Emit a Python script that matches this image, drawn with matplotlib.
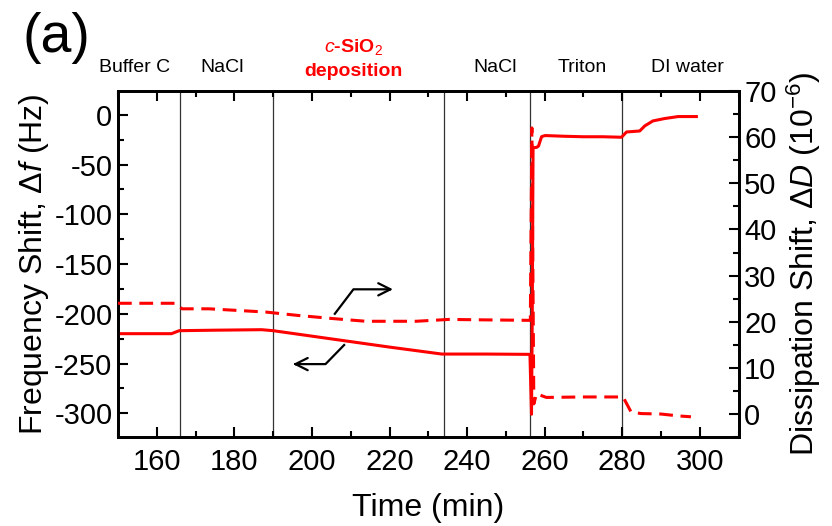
import matplotlib
matplotlib.use("Agg")
import matplotlib.pyplot as plt
from matplotlib.ticker import MultipleLocator
import matplotlib.transforms as mtransforms

plt.rcParams['font.family'] = ['Liberation Sans', 'DejaVu Sans']
plt.rcParams['mathtext.fontset'] = 'custom'
plt.rcParams['mathtext.rm'] = 'Liberation Sans'
plt.rcParams['mathtext.it'] = 'Liberation Sans:italic'
plt.rcParams['axes.unicode_minus'] = False

# frequency shift (left axis), Hz
t_freq = [150, 163.8, 165.8, 175, 187, 190, 200, 210, 220, 233.5, 245, 256.2,
          256.6, 256.8, 257.0, 257.9, 258.4, 259.2, 260.1, 265, 270, 275, 279.8,
          281.1, 284.5, 285.8, 287.9, 290.9, 294.4, 299.1]
freq = [-220, -220, -217, -216.5, -216, -217, -222.5, -228, -233.5, -240.5, -240.5, -240.8,
        -301, -200, -33, -32.7, -31.4, -21.9, -20.8, -21.5, -22, -22, -22.5,
        -17.2, -16.2, -11.1, -6.1, -3.7, -1.7, -1.7]

# dissipation shift (right axis), 1e-6
t_diss = [150, 165.0, 166.5, 173.5, 188.1, 196, 205.2, 213.9, 226.8, 235.3, 245, 256.3,
          256.7, 257.2, 257.9, 260.4, 270, 280.2, 282.3, 284.9, 290, 294.4, 297.7]
diss = [24.0, 24.0, 22.8, 22.8, 22.1, 21.4, 20.7, 20.1, 20.1, 20.5, 20.4, 20.3,
        62, 2.2, 4.4, 3.6, 3.7, 3.7, 0.4, 0.1, 0.0, -0.4, -0.6]

# solution changes
t_switch = [166, 190, 234, 256.2, 280]
stage_x = [154.3, 176.9, 247.3, 269.7, 296.9]
stage_names = ['Buffer C', 'NaCl', 'NaCl', 'Triton', 'DI water']

fig = plt.figure(figsize=(8.32, 5.26), dpi=100)
ax = fig.add_axes([0.1418, 0.169, 0.746, 0.658])
ax2 = ax.twinx()

for t in t_switch:
    ax.axvline(t, color='#333333', lw=0.9, zorder=1)

ax.plot(t_freq, freq, color='red', lw=2.2, zorder=3)
ax2.plot(t_diss, diss, color='red', lw=2.2, ls=(0, (4.5, 2.5)), zorder=3)

ax.set_xlim(150, 310)
ax.set_ylim(-324, 24)
ax2.set_ylim(-5, 70)

ax.xaxis.set_major_locator(MultipleLocator(20))
ax.xaxis.set_minor_locator(MultipleLocator(10))
ax.yaxis.set_major_locator(MultipleLocator(50))
ax.yaxis.set_minor_locator(MultipleLocator(25))
ax2.yaxis.set_major_locator(MultipleLocator(10))
ax2.yaxis.set_minor_locator(MultipleLocator(5))

ax.tick_params(axis='x', which='both', direction='in', top=True, labelsize=21, pad=8)
ax.tick_params(axis='y', which='both', direction='in', labelsize=21, pad=4)
ax.tick_params(which='major', length=7, width=1.5)
ax.tick_params(which='minor', length=4, width=1.5)
ax2.tick_params(axis='y', which='both', direction='in', labelsize=21, pad=4)
ax2.tick_params(which='major', length=7, width=1.5)
ax2.tick_params(which='minor', length=4, width=1.5)
for a in (ax, ax2):
    for s in a.spines.values():
        s.set_linewidth(2)

ax.set_xlabel('Time (min)', fontsize=23, labelpad=12)
ax.set_ylabel(r'Frequency Shift, $\Delta f$ (Hz)', fontsize=23, labelpad=2)
ax2.set_ylabel(r'Dissipation Shift, $\Delta D$ (10$^{-6}$)', fontsize=23,
               rotation=90, labelpad=6)

# arrows pointing at each curve's axis
ax.plot([205.9, 210.7, 220.0], [-200, -175.4, -175.4], color='black', lw=1.6)
ax.annotate('', xy=(221.6, -175.4), xytext=(219, -175.4),
            arrowprops=dict(arrowstyle='->', color='black', lw=1.6, mutation_scale=22))
ax.plot([208.3, 203.5, 196.0], [-231.4, -250.6, -250.6], color='black', lw=1.6)
ax.annotate('', xy=(194.4, -250.6), xytext=(197, -250.6),
            arrowprops=dict(arrowstyle='->', color='black', lw=1.6, mutation_scale=22))

trans = mtransforms.blended_transform_factory(ax.transData, fig.transFigure)
for x, name in zip(stage_x, stage_names):
    ax.text(x, 0.871, name, transform=trans, ha='center', va='center', fontsize=14)
ax.text(210.8, 0.911, r'$\mathit{c}$-SiO$_2$', transform=trans, ha='center', va='center',
        fontsize=14, color='red', fontweight='bold')
ax.text(210.6, 0.865, 'deposition', transform=trans, ha='center', va='center',
        fontsize=14, color='red', fontweight='bold')

fig.text(0.068, 0.928, '(a)', fontsize=40, ha='center', va='center')

fig.savefig('out.png', dpi=100)
